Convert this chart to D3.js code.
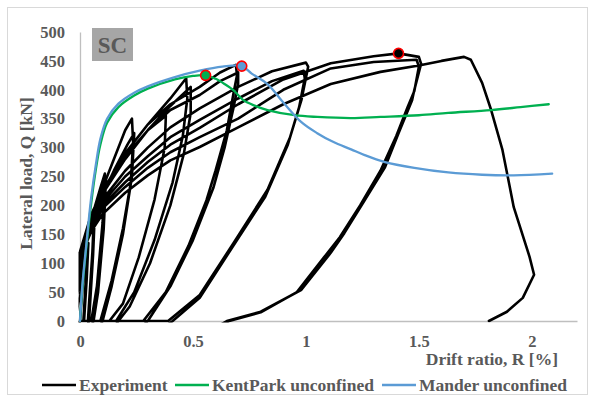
<!DOCTYPE html>
<html>
<head>
<meta charset="utf-8">
<script src="https://cdn.jsdelivr.net/npm/d3@7"></script>
<style>
    body { margin: 0; background: #fff; }
    #chart { width: 595px; height: 401px; }
    text { font-family: "Liberation Serif", "Times New Roman", serif; font-weight: bold; fill: #595959; }
</style>
</head>
<body>
<div id="chart"></div>
<script>

// drift ratio R [%], lateral load Q [kN]
const experiment = [
    // ~0.03 %
    [0, 0], [0.01, 55], [0.02, 100], [0.03, 125], [0.027, 80], [0.015, 0], [0, 0], [-0.1, -150],
    [0, 45], [0.015, 95], [0.03, 120], [0.037, 135], [0.03, 75], [0.018, 0], [0, 0], [-0.15, -200],
    // ~0.06 %
    [0, 70], [0.02, 120], [0.04, 155], [0.062, 185], [0.055, 120], [0.035, 0], [0, 0], [-0.2, -250],
    [0, 80], [0.025, 130], [0.045, 160], [0.066, 190], [0.058, 115], [0.04, 0], [-0.2, -250],
    // ~0.1 %
    [0, 90], [0.03, 150], [0.06, 190], [0.09, 230], [0.11, 255], [0.1, 170], [0.075, 60], [0.05, 0], [0, 0], [-0.25, -280],
    [0, 95], [0.03, 150], [0.06, 185], [0.09, 220], [0.115, 245], [0.105, 160], [0.08, 50], [0.06, 0], [-0.25, -280],
    // ~0.23 %
    [0, 100], [0.04, 165], [0.08, 210], [0.14, 270], [0.2, 330], [0.23, 350], [0.235, 310], [0.225, 240], [0.19, 160], [0.14, 70], [0.09, 0], [0, 0], [-0.3, -320],
    [0, 105], [0.04, 165], [0.09, 210], [0.15, 260], [0.21, 305], [0.24, 325], [0.23, 250], [0.19, 150], [0.14, 60], [0.1, 0], [-0.3, -320],
    // ~0.38 %
    [0, 110], [0.05, 180], [0.1, 220], [0.2, 285], [0.3, 330], [0.38, 355], [0.375, 300], [0.33, 210], [0.26, 110], [0.19, 30], [0.13, 0], [0, 0], [-0.4, -350],
    // ~0.5 %
    [0, 115], [0.05, 185], [0.1, 225], [0.2, 290], [0.3, 340], [0.4, 385], [0.47, 420], [0.475, 385], [0.455, 320], [0.41, 240], [0.33, 140], [0.24, 50], [0.16, 0], [0, 0], [-0.5, -380],
    [0, 115], [0.05, 180], [0.1, 220], [0.2, 282], [0.3, 330], [0.4, 372], [0.49, 405], [0.49, 360], [0.46, 290], [0.4, 200], [0.31, 100], [0.22, 25], [0.17, 0], [-0.5, -380],
    // ~0.7 %
    [0, 120], [0.05, 185], [0.1, 225], [0.2, 290], [0.3, 340], [0.4, 375], [0.53, 405], [0.62, 430], [0.69, 443], [0.695, 425], [0.68, 395], [0.65, 330], [0.6, 260], [0.56, 209], [0.48, 130], [0.38, 50], [0.28, 0], [0, 0], [-0.7, -400],
    [0, 120], [0.05, 180], [0.1, 220], [0.2, 280], [0.3, 330], [0.4, 365], [0.53, 391], [0.62, 415], [0.7, 430], [0.7, 410], [0.68, 370], [0.64, 300], [0.59, 230], [0.5, 140], [0.4, 60], [0.3, 0], [-0.7, -400],
    // ~1.0 %
    [0, 120], [0.05, 175], [0.1, 210], [0.2, 260], [0.3, 300], [0.4, 335], [0.53, 368], [0.7, 405], [0.85, 432], [1.0, 447], [1.01, 440], [0.98, 382], [0.93, 318], [0.83, 227], [0.68, 135], [0.53, 45], [0.39, 0], [0, 0], [-1, -420],
    [0, 120], [0.05, 170], [0.1, 205], [0.2, 250], [0.3, 285], [0.4, 318], [0.53, 348], [0.7, 385], [0.85, 415], [0.99, 433], [0.995, 420], [0.97, 370], [0.92, 305], [0.82, 215], [0.67, 125], [0.53, 40], [0.41, 0], [-1, -420],
    // ~1.5 %
    [0, 120], [0.05, 165], [0.1, 200], [0.2, 240], [0.3, 275], [0.4, 305], [0.53, 334], [0.7, 375], [0.9, 418], [1.11, 446], [1.3, 458], [1.41, 463], [1.5, 457], [1.51, 445], [1.48, 400], [1.47, 382], [1.41, 325], [1.35, 266], [1.26, 209], [1.17, 152], [1.11, 118], [0.98, 54], [0.8, 16], [0.65, 0], [-1.2, -430],
    [0, 115], [0.05, 160], [0.1, 195], [0.2, 232], [0.3, 265], [0.4, 292], [0.53, 318], [0.7, 350], [0.9, 400], [1.11, 437], [1.3, 448], [1.49, 452], [1.5, 440], [1.48, 398], [1.45, 370], [1.4, 320], [1.33, 260], [1.24, 200], [1.15, 145], [1.08, 110], [0.96, 50], [0.8, 15], [0.66, 0], [-1.2, -430],
    // final push and failure
    [0, 110], [0.05, 155], [0.1, 185], [0.2, 222], [0.3, 252], [0.4, 278], [0.53, 301], [0.7, 335], [0.9, 375], [1.11, 410], [1.33, 431], [1.5, 442], [1.6, 450], [1.7, 457], [1.73, 452], [1.78, 412], [1.82, 365], [1.87, 296], [1.92, 197], [1.99, 111], [2.01, 80], [1.96, 40], [1.89, 16], [1.81, 0]
];

const kentPark = [
    [0, 0], [0.01, 55], [0.03, 135], [0.05, 205], [0.07, 262], [0.09, 305], [0.12, 343], [0.17, 370],
    [0.24, 390], [0.3, 402], [0.42, 418], [0.5, 424], [0.556, 425], [0.6, 419], [0.64, 410], [0.68, 399],
    [0.72, 383], [0.77, 373], [0.83, 365], [0.95, 356], [1.05, 353], [1.2, 351], [1.33, 353], [1.5, 356],
    [1.63, 360], [1.82, 365], [1.95, 370], [2.075, 375]
];

const mander = [
    [0, 0], [0.01, 60], [0.03, 140], [0.05, 215], [0.07, 270], [0.09, 315], [0.12, 350], [0.17, 376],
    [0.24, 395], [0.3, 406], [0.42, 422], [0.53, 433], [0.63, 440], [0.716, 441], [0.76, 428], [0.83, 410],
    [0.9, 378], [0.98, 344], [1.05, 325], [1.12, 310], [1.2, 297], [1.26, 287], [1.35, 275], [1.48, 265],
    [1.63, 257], [1.78, 253], [1.92, 252], [2.09, 255]
];

// peak points of each curve
const peaks = [
    { series: "Experiment", drift: 1.41, load: 463 },
    { series: "KentPark unconfined", drift: 0.556, load: 425 },
    { series: "Mander unconfined", drift: 0.716, load: 441 }
];

const seriesNames = ["Experiment", "KentPark unconfined", "Mander unconfined"];
const xTicks = [0, 0.5, 1, 1.5, 2];
const yTicks = [0, 50, 100, 150, 200, 250, 300, 350, 400, 450, 500];
const xTitle = "Drift ratio, R [%]";
const yTitle = "Lateral load, Q [kN]";
const panelLabel = "SC";


class hysteresisChart {

    constructor(opts) {
        this.element = opts.element;
        this.colors = {
            "Experiment": "#000000",
            "KentPark unconfined": "#00b050",
            "Mander unconfined": "#5b9bd5"
        };
        // test record is drawn as recorded, the two models are smooth curves
        this.series = [
            { name: seriesNames[0], values: experiment, width: 2.6, smooth: false },
            { name: seriesNames[1], values: kentPark, width: 2.3, smooth: true },
            { name: seriesNames[2], values: mander, width: 2.3, smooth: true }
        ];
        this.update();
    }

    _setDimensions() {
        this.outerWidth = 595;
        this.outerHeight = 401;
        this.margin = { top: 32, right: 18, bottom: 80, left: 80 };
        this.width = this.outerWidth - this.margin.left - this.margin.right;
        this.height = this.outerHeight - this.margin.top - this.margin.bottom;
    }

    _setScales() {
        this.xScale = d3.scaleLinear()
            .domain([0, 2.2])
            .range([0, this.width]);

        this.yScale = d3.scaleLinear()
            .domain([0, 500])
            .range([this.height, 0]);

        this.line = d3.line()
            .x(d => this.xScale(d[0]))
            .y(d => this.yScale(d[1]));

        this.smoothLine = d3.line()
            .curve(d3.curveCatmullRom.alpha(0.5))
            .x(d => this.xScale(d[0]))
            .y(d => this.yScale(d[1]));

        this.xAxis = d3.axisBottom(this.xScale)
            .tickValues(xTicks)
            .tickFormat(d3.format("~g"))
            .tickSize(0)
            .tickPadding(14);

        this.yAxis = d3.axisLeft(this.yScale)
            .tickValues(yTicks)
            .tickSize(0)
            .tickPadding(15);
    }

    update() {
        this._setDimensions();
        this._setScales();
        this.draw();
    }

    draw() {
        this.element.innerHTML = "";

        this.svg = d3.select(this.element).append("svg")
            .attr("width", this.outerWidth)
            .attr("height", this.outerHeight);

        this.svg.append("rect")
            .attr("width", this.outerWidth)
            .attr("height", this.outerHeight)
            .attr("fill", "#fff");

        // chart frame
        this.svg.append("rect")
            .attr("x", 7.5)
            .attr("y", 7.5)
            .attr("width", 580)
            .attr("height", 387)
            .attr("fill", "none")
            .attr("stroke", "#d9d9d9");

        this.plot = this.svg.append("g")
            .attr("transform", `translate(${this.margin.left},${this.margin.top})`);

        this.svg.append("defs").append("clipPath")
            .attr("id", "plot-clip")
            .append("rect")
            .attr("x", -1.5)
            .attr("y", -4)
            .attr("width", this.width + 1.5)
            .attr("height", this.height + 5.5);

        let xg = this.plot.append("g")
            .attr("class", "axis x-axis")
            .attr("transform", `translate(0,${this.height})`)
            .call(this.xAxis);

        let yg = this.plot.append("g")
            .attr("class", "axis y-axis")
            .call(this.yAxis);

        [xg, yg].forEach(g => {
            g.select(".domain").attr("stroke", "#bfbfbf").attr("stroke-width", 1.3);
            g.selectAll("text")
                .attr("fill", "#595959")
                .style("font-size", "16.5px")
                .style("font-family", "'Liberation Serif', serif")
                .style("font-weight", "bold");
        });

        // axis titles
        this.plot.append("text")
            .attr("x", 478)
            .attr("y", this.height + 44)
            .attr("text-anchor", "end")
            .style("font-size", "17.5px")
            .text(xTitle);

        this.plot.append("text")
            .attr("transform", "rotate(-90)")
            .attr("x", -this.height / 2 + 3)
            .attr("y", -48)
            .attr("text-anchor", "middle")
            .style("font-size", "17.5px")
            .text(yTitle);

        // SC tag
        this.svg.append("rect")
            .attr("x", 92)
            .attr("y", 28)
            .attr("width", 41)
            .attr("height", 33)
            .attr("fill", "#a6a6a6");

        this.svg.append("text")
            .attr("x", 112.5)
            .attr("y", 53)
            .attr("text-anchor", "middle")
            .style("font-size", "23px")
            .style("fill", "#595959")
            .text(panelLabel);

        this.lines = this.plot.append("g")
            .attr("clip-path", "url(#plot-clip)");

        this.lines.selectAll(".series")
            .data(this.series).enter()
            .append("path")
            .attr("class", "series")
            .attr("fill", "none")
            .attr("stroke", d => this.colors[d.name])
            .attr("stroke-width", d => d.width)
            .attr("stroke-linejoin", "round")
            .attr("stroke-linecap", "round")
            .attr("d", d => d.smooth ? this.smoothLine(d.values) : this.line(d.values));

        this.plot.selectAll(".peak")
            .data(peaks).enter()
            .append("circle")
            .attr("class", "peak")
            .attr("cx", d => this.xScale(d.drift))
            .attr("cy", d => this.yScale(d.load))
            .attr("r", 5)
            .attr("fill", d => this.colors[d.series])
            .attr("stroke", "#ff0000")
            .attr("stroke-width", 1.6);

        this.drawLegend();
    }

    drawLegend() {
        let legendX = [42, 175, 382];

        let item = this.svg.selectAll(".legend-item")
            .data(seriesNames).enter()
            .append("g")
            .attr("class", "legend-item")
            .attr("transform", (d, i) => `translate(${legendX[i]},385)`);

        item.append("line")
            .attr("x1", 0)
            .attr("x2", 34)
            .attr("stroke", d => this.colors[d])
            .attr("stroke-width", 2.6);

        item.append("text")
            .attr("x", 37)
            .attr("y", 5.5)
            .style("font-size", "17.5px")
            .text(d => d);
    }
}

new hysteresisChart({ element: document.getElementById("chart") });

</script>
</body>
</html>
